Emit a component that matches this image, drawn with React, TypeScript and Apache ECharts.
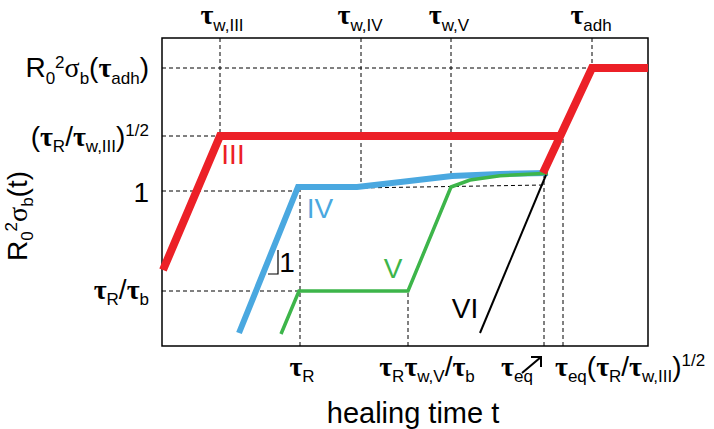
import React, { useEffect, useRef } from "react";
import * as echarts from "echarts";

const FONT = "'Liberation Sans', Arial, Helvetica, sans-serif";
const GREEK = "'Liberation Serif', 'DejaVu Serif', serif";

// Schematic coordinates (arbitrary log-units of healing time / stress)
const X_MAX = 486;
const Y_MAX = 308;

// Regime curves
const regimeIIIRise: number[][] = [[1, 76], [58, 210], [398, 210]];
const regimeIIIAdh: number[][] = [[381, 173], [430, 278], [486, 278]];
const regimeIV: number[][] = [[77, 13], [136, 159], [195, 159], [243, 164.6], [290, 170], [338, 172], [386, 173]];
const regimeV: number[][] = [[119, 12], [137, 55], [246, 55], [289, 159], [308, 166], [338, 170.3], [386, 172.7]];
const regimeVI: number[][] = [[318, 13], [384, 171]];
const slopeMark: number[][] = [[106, 72], [116, 72], [116, 96]];

// Dashed guide segments
const guides: number[][][] = [
  [[58, 308], [58, 210]],
  [[199, 308], [199, 160]],
  [[289, 308], [289, 170]],
  [[430, 308], [430, 278]],
  [[138, 0], [138, 159]],
  [[246, 0], [246, 55]],
  [[382, 0], [382, 170]],
  [[401, 0], [401, 214]],
  [[0, 278], [430, 278]],
  [[0, 210], [58, 210]],
  [[0, 155], [136, 155]],
  [[195, 158], [382, 161]],
  [[0, 55], [138, 55]],
];

// Tick labels
const topTickX = [60, 198, 287, 429];
const topTickLabels = ["{t|τ}{s|w,III}", "{t|τ}{s|w,IV}", "{t|τ}{s|w,V}", "{t|τ}{s|adh}"];
const bottomTickX = [140, 265, 355, 393];
const bottomTickLabels = [
  "{t|τ}{s|R}",
  "{t|τ}{s|R}{t|τ}{s|w,V}{m|/}{t|τ}{s|b}",
  "{t|τ}{s|eq}",
  "{t|τ}{s|eq}{m|(}{t|τ}{s|R}{m|/}{t|τ}{s|w,III}{m|)}{p|1/2}",
];
const bottomTickAlign = ["center", "center", "center", "left"];
const leftTickY = [278.7, 210, 154, 57];
const leftTickLabels = [
  "{m|R}{s|0}{p|2}{g|σ}{s|b}{m|(}{t|τ}{s|adh}{m|)}",
  "{m|(}{t|τ}{s|R}{m|/}{t|τ}{s|w,III}{m|)}{p|1/2}",
  "{m|1}",
  "{t|τ}{s|R}{m|/}{t|τ}{s|b}",
];

// Regime labels
const regimeNames = ["III", "IV", "V", "VI"];
const regimeLabelPos: number[][] = [[71, 192], [158, 138], [231, 78], [303, 38]];

const RED = "#ec2027";
const BLUE = "#4aa8e0";
const GREEN = "#3db54a";
const BLACK = "#000000";
const regimeColors = [RED, BLUE, GREEN, BLACK];

export default function App() {
  const ref = useRef<HTMLDivElement>(null);
  useEffect(() => {
    if (!ref.current) return;
    const chart = echarts.init(ref.current, undefined, { renderer: "svg" });

    const solid = (data: number[][], color: string, width: number, z: number) => ({
      type: "line",
      data,
      symbol: "none",
      silent: true,
      z,
      lineStyle: { color, width, join: "miter", cap: "butt" },
    });

    const series: any[] = [];
    guides.forEach((seg) => {
      series.push({
        type: "line",
        data: seg,
        symbol: "none",
        silent: true,
        z: 1,
        lineStyle: { color: "#000", width: 1, type: [4, 3] },
      });
    });
    series.push(solid(slopeMark, BLACK, 1.2, 2));
    series.push(solid(regimeIV, BLUE, 6, 3));
    series.push(solid(regimeV, GREEN, 3.5, 4));
    series.push(solid(regimeVI, BLACK, 2, 5));
    series.push(solid(regimeIIIRise, RED, 8, 6));
    series.push(solid(regimeIIIAdh, RED, 8, 6));

    chart.setOption({
      animation: false,
      grid: {
        left: 162,
        top: 38,
        width: 486,
        height: 308,
        show: true,
        borderColor: "#000",
        borderWidth: 1.5,
        backgroundColor: "transparent",
      },
      xAxis: { type: "value", min: 0, max: X_MAX, show: false },
      yAxis: { type: "value", min: 0, max: Y_MAX, show: false },
      series,
    });

    const px = (p: number[]) => chart.convertToPixel({ gridIndex: 0 }, p) as number[];
    const L = 26;
    const rich = {
      m: { fontSize: 28, fontFamily: FONT, lineHeight: L, fill: "#000" },
      t: { fontSize: 28, fontFamily: GREEK, fontWeight: "bold", lineHeight: L, fill: "#000" },
      g: { fontSize: 28, fontFamily: GREEK, lineHeight: L, fill: "#000" },
      s: { fontSize: 17, fontFamily: FONT, lineHeight: 20, height: 4.4, verticalAlign: "bottom", fill: "#000" },
      p: { fontSize: 17, fontFamily: FONT, lineHeight: 20, height: 15.6, verticalAlign: "top", fill: "#000" },
    };
    const richText = (text: string, x: number, y: number, align: string, rotation = 0) => ({
      type: "text",
      x,
      y,
      rotation,
      silent: true,
      style: { text, rich, align, verticalAlign: "middle", fill: "#000" },
    });

    const graphic: any[] = [];
    topTickX.forEach((x, i) => {
      const [gx, gy] = px([x, 331.5]);
      graphic.push(richText(topTickLabels[i], gx, gy, "center"));
    });
    bottomTickX.forEach((x, i) => {
      const [gx, gy] = px([x, -20]);
      graphic.push(richText(bottomTickLabels[i], gx, gy, bottomTickAlign[i]));
    });
    leftTickY.forEach((y, i) => {
      const [gx, gy] = px([-13, y]);
      graphic.push(richText(leftTickLabels[i], gx, gy, "right"));
    });
    {
      const [gx, gy] = px([-145, 130]);
      graphic.push(richText("{m|R}{s|0}{p|2}{g|σ}{s|b}{m|(t)}", gx, gy, "center", Math.PI / 2));
    }
    {
      const [gx, gy] = px([251, -67]);
      graphic.push({
        type: "text",
        x: gx,
        y: gy,
        silent: true,
        style: { text: "healing time t", fontSize: 29, fontFamily: FONT, fill: "#000", align: "center", verticalAlign: "middle" },
      });
    }
    regimeNames.forEach((name, i) => {
      const [gx, gy] = px(regimeLabelPos[i]);
      graphic.push({
        type: "text",
        x: gx,
        y: gy,
        silent: true,
        style: { text: name, fontSize: 28, fontFamily: FONT, fill: regimeColors[i], align: "center", verticalAlign: "middle" },
      });
    });
    {
      const [gx, gy] = px([125, 84]);
      graphic.push({
        type: "text",
        x: gx,
        y: gy,
        silent: true,
        style: { text: "1", fontSize: 28, fontFamily: FONT, fill: "#000", align: "center", verticalAlign: "middle" },
      });
    }
    {
      const tail = px([360, -27]);
      const tip = px([379, -11]);
      const arm1 = px([369, -11]);
      const arm2 = px([379, -21]);
      graphic.push({
        type: "polyline",
        silent: true,
        shape: { points: [tail, tip] },
        style: { stroke: "#000", lineWidth: 2, fill: null },
      });
      graphic.push({
        type: "polyline",
        silent: true,
        shape: { points: [arm1, tip, arm2] },
        style: { stroke: "#000", lineWidth: 2, fill: null, lineJoin: "miter" },
      });
    }
    chart.setOption({ graphic });

    return () => chart.dispose();
  }, []);

  return (
    <div
      ref={ref}
      style={{ position: "fixed", left: 0, top: 0, width: 714, height: 429, background: "#fff" }}
    />
  );
}
